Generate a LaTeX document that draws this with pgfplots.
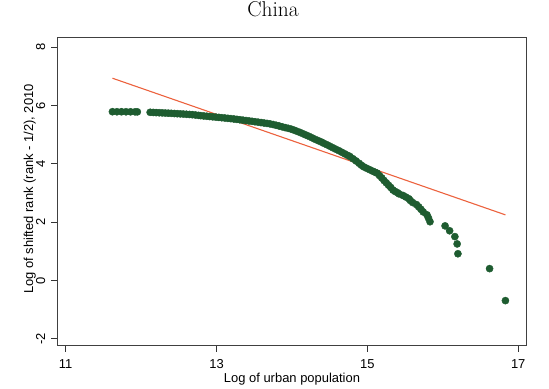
\documentclass[border=0pt]{standalone}
\usepackage{fontspec}
\setmainfont{Liberation Sans}
\newfontfamily\lmr{Latin Modern Roman}
\usepackage{pgfplots}
\pgfplotsset{compat=1.18}
\definecolor{dotgreen}{RGB}{30,92,48}
\definecolor{fitline}{RGB}{236,98,62}
\begin{document}
\begin{tikzpicture}[x=1bp,y=1bp]
\useasboundingbox (0,0) rectangle (549,388);
\begin{axis}[at={(57bp,42.3bp)}, anchor=south west, scale only axis,
  width=469bp, height=307.7bp,
  xmin=10.885, xmax=17.103, ymin=-2.24, ymax=8.32,
  xtick={11,13,15,17}, ytick={-2,0,2,4,6,8},
  tick align=outside, xtick pos=left, ytick pos=left,
  major tick length=6bp,
  tick style={black!80, line width=0.9bp},
  axis line style={black!75, line width=1bp},
  ticklabel style={font=\fontsize{13}{15}\selectfont},
  /pgf/number format/assume math mode=true,
  xticklabel style={anchor=base, inner sep=0pt}, xticklabel shift=16.8bp,
  yticklabel style={rotate=90, anchor=base, inner sep=0pt}, yticklabel shift=6bp,
  clip=false]
\addplot[only marks, mark=*, mark size=3.6bp, mark options={fill=dotgreen, draw=dotgreen}] coordinates {
(11.62,5.790) (11.68,5.789) (11.74,5.789) (11.80,5.788) (11.86,5.787) (11.92,5.786) (11.95,5.785)
(12.12,5.770) (12.16,5.765) (12.20,5.760) (12.24,5.755) (12.28,5.750) (12.32,5.745)
(12.36,5.740) (12.40,5.734) (12.44,5.728) (12.48,5.722) (12.52,5.716) (12.56,5.710)
(12.60,5.703) (12.64,5.696) (12.68,5.688) (12.72,5.678) (12.76,5.665) (12.79,5.655)
(12.83,5.645) (12.87,5.635) (12.91,5.625) (12.95,5.615) (12.99,5.605) (13.03,5.595)
(13.07,5.585) (13.11,5.574) (13.15,5.563) (13.19,5.552) (13.23,5.540) (13.27,5.527)
(13.31,5.514) (13.35,5.500) (13.39,5.487) (13.43,5.474) (13.47,5.460) (13.51,5.446)
(13.55,5.432) (13.59,5.418) (13.63,5.403) (13.67,5.388) (13.71,5.372)
(13.75,5.350) (13.79,5.325) (13.83,5.300) (13.87,5.272) (13.91,5.245) (13.95,5.220)
(13.99,5.192) (14.03,5.155) (14.07,5.115) (14.11,5.075) (14.15,5.030) (14.19,4.985)
(14.23,4.940) (14.27,4.890) (14.31,4.840) (14.35,4.795) (14.39,4.750) (14.42,4.710)
(14.46,4.660) (14.50,4.610) (14.54,4.555) (14.58,4.505) (14.62,4.455) (14.66,4.400)
(14.70,4.345) (14.74,4.290) (14.77,4.250) (14.81,4.175) (14.85,4.100) (14.89,4.020)
(14.92,3.955) (14.95,3.900) (14.99,3.850) (15.03,3.800) (15.07,3.750) (15.10,3.715)
(15.13,3.680) (15.16,3.600) (15.19,3.520) (15.22,3.430) (15.25,3.350) (15.28,3.270)
(15.31,3.190) (15.34,3.100) (15.37,3.050) (15.40,3.010) (15.42,2.970)
(15.47,2.918) (15.51,2.862) (15.55,2.803) (15.57,2.741) (15.60,2.674) (15.65,2.603)
(15.68,2.526) (15.71,2.442) (15.74,2.351) (15.79,2.251) (15.81,2.140) (15.83,2.015)
(16.03,1.872) (16.09,1.705) (16.16,1.504) (16.19,1.253) (16.20,0.916) (16.62,0.405)
(16.83,-0.693)
};
\addplot[fitline, line width=1.1bp] coordinates {(11.62,6.94) (16.83,2.25)};
\end{axis}
\node[font=\lmr\fontsize{21.5}{24}\selectfont, anchor=base] at (273,371.3) {China};
\node[font=\fontsize{13}{15}\selectfont, anchor=base] at (292,5.5) {Log of urban population};
\node[font=\fontsize{13}{15}\selectfont, rotate=90, anchor=base] at (33,199) {Log of shifted rank (rank - 1/2), 2010};
\end{tikzpicture}
\end{document}
